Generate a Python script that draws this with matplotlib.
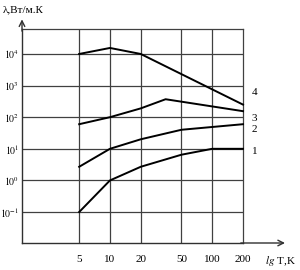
import numpy as np
import matplotlib.pyplot as plt

plt.rcParams['font.family'] = ['Liberation Serif', 'DejaVu Serif']
plt.rcParams['mathtext.fontset'] = 'stix'

# temperature, K
T_ticks = [5, 10, 20, 50, 100, 200]

# thermal conductivity curves, W/(m K)
curve1_T = [5, 10, 20, 50, 100, 200]
curve1_k = [0.1, 1.0, 2.7, 6.5, 10, 10]
curve2_T = [5, 10, 20, 50, 200]
curve2_k = [2.7, 10, 20, 40, 60]
curve3_T = [5, 10, 20, 35, 200]
curve3_k = [60, 100, 190, 370, 155]
curve4_T = [5, 10, 20, 200]
curve4_k = [1.0e4, 1.55e4, 1.0e4, 250]

curve_labels = ["1", "2", "3", "4"]
y_decades = [-1, 0, 1, 2, 3, 4]

fig = plt.figure(figsize=(3.0, 2.7), dpi=100)
ax = fig.add_axes([22 / 300, 27 / 270, 221 / 300, 214 / 270])

ax.set_xscale("log")
ax.set_yscale("log")
ax.set_xlim(1.38, 200)
ax.set_ylim(10 ** -1.98, 10 ** 4.79)

grid_c = "#404040"
for t in T_ticks[:-1]:
    ax.axvline(t, color=grid_c, linewidth=0.9, zorder=1)
for d in y_decades:
    ax.axhline(10.0 ** d, color=grid_c, linewidth=0.9, zorder=1)

curves = [(curve1_T, curve1_k), (curve2_T, curve2_k),
          (curve3_T, curve3_k), (curve4_T, curve4_k)]
for (t, k), lab in zip(curves, curve_labels):
    ax.plot(t, k, color="black", linewidth=1.4, zorder=3, clip_on=False)

# curve numbers to the right of the frame
label_y = {"1": 8.5, "2": 40, "3": 90, "4": 600}
for lab in curve_labels:
    ax.text(1.04, label_y[lab], lab, transform=ax.get_yaxis_transform(),
            fontsize=8, ha="left", va="center")

ax.set_xticks(T_ticks)
ax.set_xticklabels([str(t) for t in T_ticks], fontsize=8)
ax.xaxis.set_minor_locator(plt.NullLocator())
ax.set_yticks([10.0 ** d for d in y_decades])
ax.set_yticklabels([f"$10^{{{d}}}$" for d in y_decades], fontsize=7)
ax.yaxis.set_minor_locator(plt.NullLocator())
ax.tick_params(axis="x", length=0, pad=9)
ax.tick_params(axis="y", length=0, pad=2)

for s in ["top", "right"]:
    ax.spines[s].set_color(grid_c)
    ax.spines[s].set_linewidth(0.9)
for s in ["left", "bottom"]:
    ax.spines[s].set_color("#303030")
    ax.spines[s].set_linewidth(1.0)

# axis arrows
ax.annotate("", xy=(0, 1.045), xytext=(0, 0.99), xycoords="axes fraction",
            arrowprops=dict(arrowstyle="->", color="#303030", lw=1.0,
                            shrinkA=0, shrinkB=0))
ax.annotate("", xy=(1.19, 0), xytext=(0.99, 0), xycoords="axes fraction",
            arrowprops=dict(arrowstyle="->", color="#303030", lw=1.0,
                            shrinkA=0, shrinkB=0))

fig.text(3 / 300, 1 - 10 / 270, "λ,Вт/м.К", fontsize=8, ha="left", va="center")
fig.text(265 / 300, 1 - 261 / 270, "$\\mathit{lg}$ T,K", fontsize=8,
         ha="left", va="center")

fig.savefig("out.png", dpi=100)
